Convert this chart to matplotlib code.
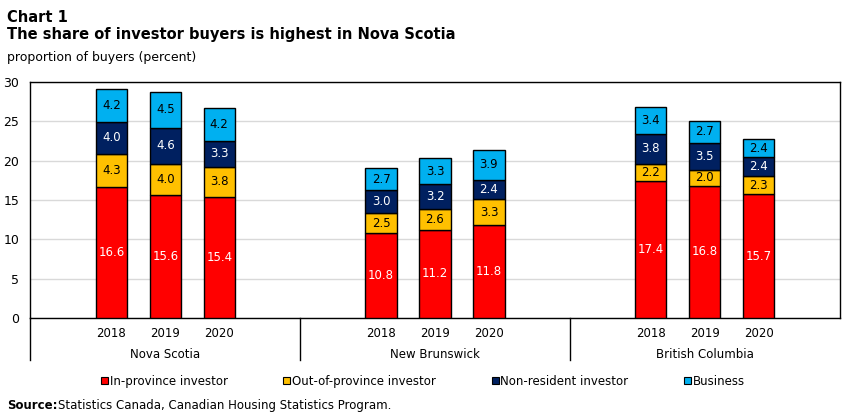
import matplotlib.pyplot as plt
from matplotlib.patches import Patch
import matplotlib.transforms as mtransforms

plt.rcParams['font.family'] = ['DejaVu Sans']

regions = ['Nova Scotia', 'New Brunswick', 'British Columbia']
years = ['2018', '2019', '2020']

# values per region, years 2018-2020
in_province = [16.6, 15.6, 15.4, 10.8, 11.2, 11.8, 17.4, 16.8, 15.7]
out_province = [4.3, 4.0, 3.8, 2.5, 2.6, 3.3, 2.2, 2.0, 2.3]
non_resident = [4.0, 4.6, 3.3, 3.0, 3.2, 2.4, 3.8, 3.5, 2.4]
business = [4.2, 4.5, 4.2, 2.7, 3.3, 3.9, 3.4, 2.7, 2.4]

series = [
    ('In-province investor', in_province, '#FF0000', 'white'),
    ('Out-of-province investor', out_province, '#FFC000', 'black'),
    ('Non-resident investor', non_resident, '#002060', 'white'),
    ('Business', business, '#00B0F0', 'black'),
]

fig = plt.figure(figsize=(8.51, 4.16), dpi=100)
ax = fig.add_axes([0.0358, 0.2356, 0.9507, 0.5674])

xs = []
for g in range(len(regions)):
    for k in range(len(years)):
        xs.append(g * 5 + 1.5 + k)

bottoms = [0.0] * len(xs)
handles = []
for name, vals, col, tcol in series:
    ax.bar(xs, vals, bottom=bottoms, width=0.58, color=col,
           edgecolor='black', linewidth=1, zorder=3)
    for x, b, v in zip(xs, bottoms, vals):
        ax.text(x, b + v / 2, f'{v:.1f}', ha='center', va='center',
                color=tcol, fontsize=8.5, zorder=4)
    bottoms = [b + v for b, v in zip(bottoms, vals)]
    handles.append(Patch(facecolor=col, edgecolor='black', linewidth=0.8, label=name))

ax.set_xlim(0, 15)
ax.set_ylim(0, 30)
ax.set_yticks([0, 5, 10, 15, 20, 25, 30])
ax.tick_params(axis='y', length=0, labelsize=9, pad=8)
ax.set_xticks([])
ax.grid(axis='y', color='#D9D9D9', linewidth=1, zorder=0)
for sp in ax.spines.values():
    sp.set_color('black')
    sp.set_linewidth(1)

# category labels below the axis
trans = mtransforms.blended_transform_factory(ax.transData, ax.transAxes)
for i, x in enumerate(xs):
    ax.text(x, -0.064, years[i % 3], transform=trans, ha='center', va='center', fontsize=8.5)
for g, r in enumerate(regions):
    ax.text(g * 5 + 2.5, -0.153, r, transform=trans, ha='center', va='center', fontsize=8.5)
for sx in [0, 5, 10]:
    ax.plot([sx, sx], [0, -0.178], transform=trans, color='black', linewidth=1, clip_on=False)

fig.text(0.008, 0.975, 'Chart 1', fontsize=10.5, fontweight='bold', va='top')
fig.text(0.008, 0.935, 'The share of investor buyers is highest in Nova Scotia',
         fontsize=10.5, fontweight='bold', va='top')
fig.text(0.008, 0.878, 'proportion of buyers (percent)', fontsize=9, va='top')

fig.legend(handles=handles, loc='center', bbox_to_anchor=(0.497, 0.084), ncol=4,
           frameon=False, fontsize=8.5, handlelength=0.6, handleheight=0.6,
           handletextpad=0.15, columnspacing=4.7)

fig.text(0.008, 0.025, 'Source:', fontsize=8.5, fontweight='bold', va='center')
fig.text(0.068, 0.025, 'Statistics Canada, Canadian Housing Statistics Program.',
         fontsize=8.5, va='center')

fig.savefig('out.png', dpi=100)
